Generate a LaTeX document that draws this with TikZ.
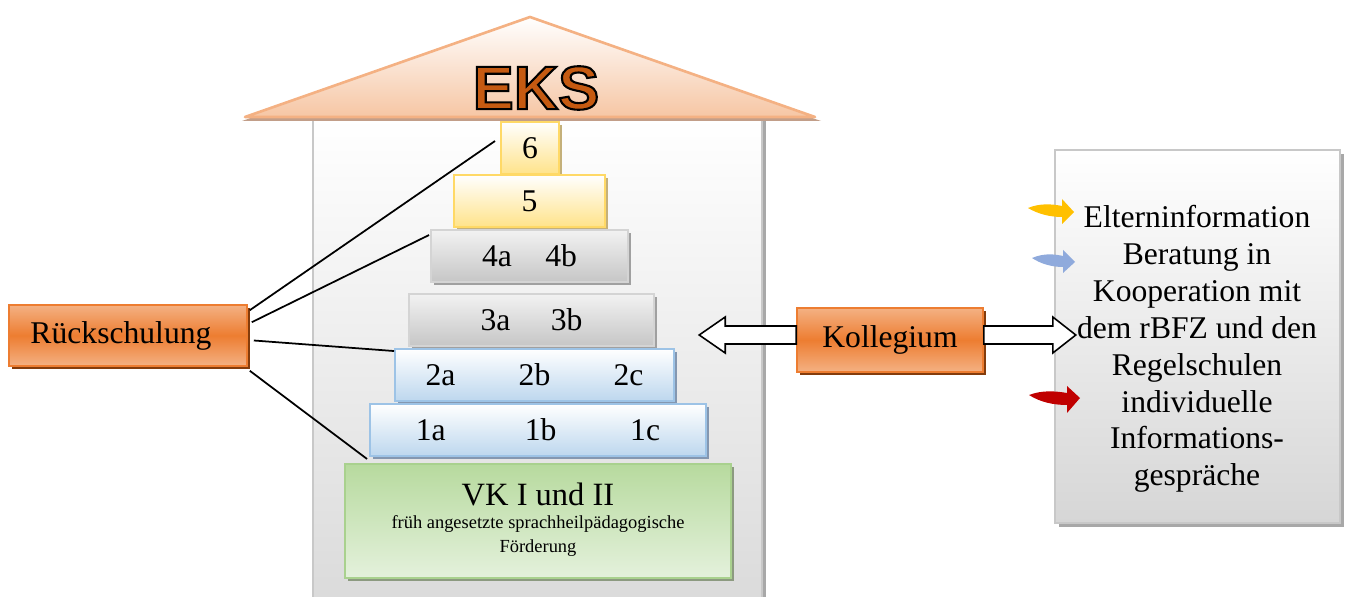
\documentclass[tikz,border=0pt]{standalone}
\usepackage{fontspec}
\setmainfont{Liberation Serif}
\newfontfamily\eksfont{Liberation Sans}
\usetikzlibrary{shadows,calc}
\definecolor{orA}{HTML}{F4B183}
\definecolor{orB}{HTML}{ED7D31}
\definecolor{orS}{HTML}{843C0C}
\definecolor{roofB}{HTML}{F6C6A4}
\definecolor{roofS}{HTML}{C29E89}
\definecolor{houseB}{HTML}{DADADA}
\definecolor{houseL}{HTML}{C8C8C8}
\definecolor{houseS}{HTML}{A8A8A8}
\definecolor{ylB}{HTML}{FFE38A}
\definecolor{ylL}{HTML}{FFD966}
\definecolor{ylS}{HTML}{C4B07A}
\definecolor{gyT}{HTML}{F2F2F2}
\definecolor{gyB}{HTML}{C6C6C6}
\definecolor{gyL}{HTML}{D4D4D4}
\definecolor{gyS}{HTML}{A0A0A0}
\definecolor{blB}{HTML}{BDD7EE}
\definecolor{blL}{HTML}{9DC3E6}
\definecolor{blS}{HTML}{8497B0}
\definecolor{grT}{HTML}{B7DA9E}
\definecolor{grB}{HTML}{E4F1DC}
\definecolor{grL}{HTML}{A9D18E}
\definecolor{grS}{HTML}{8C9A80}
\definecolor{infB}{HTML}{D6D6D6}
\definecolor{eksc}{HTML}{C55A11}
\definecolor{arY}{HTML}{FFC000}
\definecolor{arBl}{HTML}{8FAADC}
\definecolor{arR}{HTML}{C00000}
\tikzset{
  wh/.style 2 args={minimum width=#1*0.02cm, minimum height=#2*0.02cm, inner sep=0pt},
  txt/.style={font=\fontsize{18}{21}\selectfont},
  lvlbase/.style={draw, line width=1.1pt, txt},
  yl/.style={lvlbase, draw=ylL, top color=white, bottom color=ylB,
     drop shadow={shadow xshift=1.8pt, shadow yshift=-1.8pt, fill=ylS, opacity=1}},
  gy/.style={lvlbase, draw=gyL, top color=gyT, bottom color=gyB,
     drop shadow={shadow xshift=1.8pt, shadow yshift=-1.8pt, fill=gyS, opacity=1}},
  bl/.style={lvlbase, draw=blL, top color=white, bottom color=blB,
     drop shadow={shadow xshift=1.8pt, shadow yshift=-1.8pt, fill=blS, opacity=1}},
  gr/.style={lvlbase, draw=grL, top color=grT, bottom color=grB,
     drop shadow={shadow xshift=1.8pt, shadow yshift=-1.8pt, fill=grS, opacity=1}},
  orbox/.style={draw=orB, line width=0.9pt, top color=orA, bottom color=orA, middle color=orB, txt,
     drop shadow={shadow xshift=1.8pt, shadow yshift=-1.8pt, fill=orS, opacity=1}},
  infobox/.style={draw=houseL, line width=1.2pt, top color=white, bottom color=infB,
     drop shadow={shadow xshift=2.3pt, shadow yshift=-2.3pt, fill=houseS, opacity=1}},
  conn/.style={draw=black, line width=1pt},
  hollow/.style={draw=black, fill=white, line width=0.9pt, line join=miter},
}
\begin{document}
\begin{tikzpicture}[x=0.02cm, y=-0.02cm]
\useasboundingbox (0,0) rectangle (1347,597);
% house body
\fill[houseS] (316,120) rectangle (766,610);
\draw[draw=houseL, line width=1.2pt, top color=white, bottom color=houseB] (313,117) rectangle (762,610);
% roof
\fill[roofS] (242,121) -- (530,21) -- (821,121) -- cycle;
\draw[draw=orA, line width=1.5pt, top color=white, bottom color=roofB, line join=round] (245,117) -- (530,17) -- (815,117) -- cycle;

% level boxes
\node[yl, wh={58}{52}] (b6) at (530,148) {6};
\node[yl, wh={151}{52}] (b5) at (529.5,201) {5};
\node[gy, wh={197}{52}] (b4) at (529.5,256) {4a\hspace{19pt}4b};
\node[gy, wh={245}{52}] (b3) at (531.5,320) {3a\hspace{23pt}3b};
\node[bl, wh={279}{52}] (b2) at (534.5,375) {2a\hspace{36pt}2b\hspace{36pt}2c};
\node[bl, wh={336}{52}] (b1) at (538,430) {1a\hspace{45pt}1b\hspace{42pt}1c};
\node[gr, wh={386}{114}, align=center] (vk) at (538,521)
  {\fontsize{18.5}{22}\selectfont VK I und II\\[-7.9pt]
   \fontsize{10.5}{13.6}\selectfont\begin{tabular}[t]{@{}c@{}}früh angesetzte sprachheilpädagogische\\ Förderung\end{tabular}};

% Rueckschulung
\node[orbox, wh={238}{61}] (rueck) at (128,335.5) {Rückschulung\hspace*{8pt}};
\draw[conn] ($(rueck.north east)+(2,6)$) -- ($(b6.west)+(-5,-7)$);
\draw[conn] ($(rueck.north east)+(4,18)$) -- ($(b4.north west)+(-1,6)$);
\draw[conn] ($(rueck.east)+(6,5)$) -- ($(b2.north west)+(0,3)$);
\draw[conn] ($(rueck.south east)+(2,4)$) -- ($(b1.south west)+(-2,2)$);

% info box
\node[infobox, wh={285}{373}] (info) at (1197.5,336.5) {};
\node[txt, align=center] (infotext) at (1197,349)
  {Elterninformation\\Beratung in\\Kooperation mit\\dem rBFZ und den\\Regelschulen\\individuelle\\Informations-\\gespräche};

% Kollegium
\node[orbox, wh={186}{64}] (koll) at (890,340) {Kollegium};
\draw[hollow] ($(koll.west)+(0,-14)$) -- ++(-71,0) -- ++(0,-9) -- ($(koll.west)+(-97,-5)$)
  -- ($(koll.west)+(-71,13)$) -- ++(0,-9) -- ($(koll.west)+(0,4)$) -- cycle;
\draw[hollow] ($(koll.east)+(0,-14)$) -- ++(69,0) -- ++(0,-9) -- ($(koll.east)+(92,-5)$)
  -- ($(koll.east)+(69,13)$) -- ++(0,-9) -- ($(koll.east)+(0,4)$) -- cycle;

% curved arrows
\fill[arY] (1028,208) .. controls (1040,203) and (1052,204) .. (1062,206) -- (1062,199) -- (1074,212)
  -- (1062,224) -- (1062,217) .. controls (1050,217) and (1038,214) .. (1028,208) -- cycle;
\fill[arBl] (1032,258) .. controls (1044,253) and (1054,254) .. (1063,256) -- (1063,250) -- (1075,262)
  -- (1063,273) -- (1063,267) .. controls (1052,267) and (1041,264) .. (1032,258) -- cycle;
\fill[arR] (1029,395) .. controls (1042,390) and (1055,391) .. (1067,393) -- (1067,386) -- (1080,398)
  -- (1067,413) -- (1067,405) .. controls (1053,405) and (1040,402) .. (1029,395) -- cycle;

% EKS
\node[font=\eksfont\bfseries\fontsize{35}{35}\selectfont, inner sep=0pt] (eks) at (536,88)
  {\textcolor{eksc}{\special{pdf:literal direct 2 Tr 1.2 w 0 0 0 RG}EKS\special{pdf:literal direct 0 Tr 0.4 w}}};
\end{tikzpicture}
\end{document}
